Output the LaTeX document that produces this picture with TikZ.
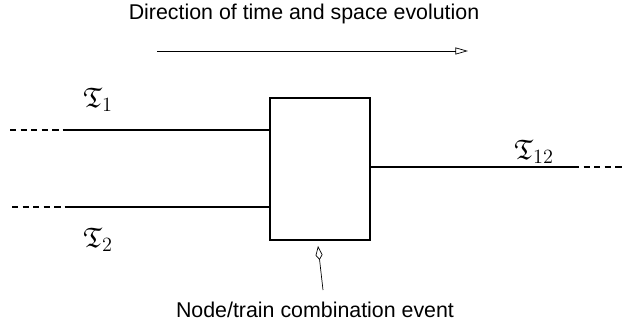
\documentclass[tikz,border=0pt]{standalone}
\usepackage{amsmath}
\usepackage{amssymb}
\usepackage{fontspec}
\setmainfont{Liberation Sans}
\usetikzlibrary{calc}
\usetikzlibrary{arrows.meta}

\begin{document}
\begin{tikzpicture}
			\useasboundingbox (0,0) rectangle (15.6,-8.125);
			\node (origo) at (0,0) {};

			% the combination event
			\node[draw, line width=0.8pt, minimum width=2.5cm, minimum height=3.55cm] (comb) at ($(origo)+(8.0,-4.225)$) {};

			% incoming and outgoing trains
			\coordinate (T1a) at ($(origo)+(0.25,-3.25)$);
			\coordinate (T1b) at ($(T1a)+(1.45,0)$);
			\coordinate (T2a) at ($(origo)+(0.3,-5.175)$);
			\coordinate (T2b) at ($(T2a)+(1.45,0)$);
			\coordinate (T12a) at ($(origo)+(14.325,-4.175)$);
			\coordinate (T12b) at ($(T12a)+(1.25,0)$);

			\node (l1) at ($(origo)+(2.45,-2.5)$){\fontsize{20}{24}\selectfont$\mathfrak{T}_1$};
			\node (l2) at ($(origo)+(2.45,-6.0)$){\fontsize{20}{24}\selectfont$\mathfrak{T}_2$};
			\node (l12) at ($(origo)+(13.35,-3.8)$){\fontsize{20}{24}\selectfont$\mathfrak{T}_{12}$};

			% direction arrow
			\node (dir) at ($(origo)+(7.6,-0.36)$){\fontsize{15.2}{18}\selectfont Direction of time and space evolution};
			\coordinate (d1) at ($(origo)+(3.93,-1.275)$);
			\coordinate (d2) at ($(origo)+(11.7,-1.275)$);

			\node (ev) at ($(origo)+(7.875,-7.75)$){\fontsize{15.2}{18}\selectfont Node/train combination event};
			\coordinate (e1) at ($(origo)+(8.075,-7.25)$);
			\coordinate (e2) at ($(origo)+(7.95,-6.15)$);

			\draw[line width=0.8pt, dash pattern=on 4.5pt off 3pt] (T1a) -- (T1b);
			\draw[line width=0.8pt] (T1b) -- (T1b -| comb.west);
			\draw[line width=0.8pt, dash pattern=on 4.5pt off 3pt] (T2a) -- (T2b);
			\draw[line width=0.8pt] (T2b) -- (T2b -| comb.west);
			\draw[line width=0.8pt] (T12a -| comb.east) -- (T12a);
			\draw[line width=0.8pt, dash pattern=on 4.5pt off 3pt] (T12a) -- (T12b);

			\draw[line width=0.5pt, -{Triangle[open, length=9pt, width=5pt]}] (d1) -- (d2);
			\draw[line width=0.5pt, -{Kite[open, length=10pt, width=5pt, inset=3.5pt]}] (e1) -- (e2);

		\end{tikzpicture}
\end{document}
